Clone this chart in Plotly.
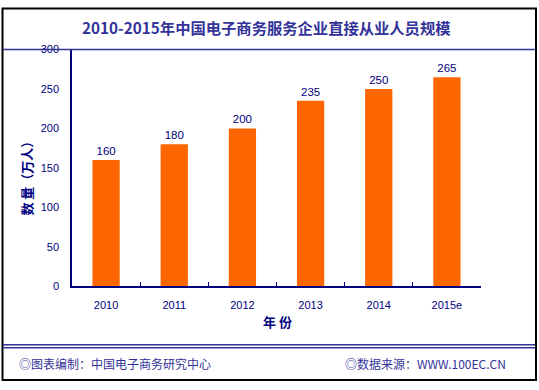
import plotly.graph_objects as go

years = ["2010", "2011", "2012", "2013", "2014", "2015e"]
values = [160, 180, 200, 235, 250, 265]
y_ticks = [0, 50, 100, 150, 200, 250, 300]

title = "2010-2015年中国电子商务服务企业直接从业人员规模"
y_title = "数 量（万人）"
x_title = "年 份"
footer_left = "◎图表编制：中国电子商务研究中心"
footer_right = "◎数据来源：WWW.100EC.CN"

W, H = 539, 390
NAVY = "#000080"
BLUE = "#333399"
CJK = "Noto Sans CJK SC"

def px(x):
    return x / W

def py(y):
    return 1 - y / H

fig = go.Figure()
fig.add_trace(go.Bar(
    x=years, y=values,
    marker=dict(color="#FF6600", line=dict(width=0)),
    text=[str(v) for v in values], textposition="outside",
    textfont=dict(family="Liberation Sans, Arial", size=11.5, color=NAVY),
    cliponaxis=False,
))

shapes = [
    dict(type="rect", xref="paper", yref="paper", x0=px(2.5), x1=px(536), y0=py(2.5), y1=py(386),
         line=dict(color="black", width=2)),
    dict(type="line", xref="paper", yref="paper", x0=px(3), x1=px(535), y0=py(45), y1=py(45),
         line=dict(color=BLUE, width=1.5)),
    dict(type="line", xref="paper", yref="paper", x0=px(3), x1=px(535), y0=py(349.5), y1=py(349.5),
         line=dict(color=BLUE, width=1.5)),
    dict(type="line", xref="paper", yref="paper", x0=px(3), x1=px(535), y0=py(352.5), y1=py(352.5),
         line=dict(color=BLUE, width=1.5)),
]

annotations = [
    dict(text=title, xref="paper", yref="paper", x=px(266), y=py(22), showarrow=False,
         xanchor="center", yanchor="middle",
         font=dict(family=CJK, size=15.3, color=BLUE, weight="bold")),
    dict(text=y_title, xref="paper", yref="paper", x=px(27), y=py(175), showarrow=False,
         textangle=-90, xanchor="center", yanchor="middle",
         font=dict(family=CJK, size=13, color=NAVY, weight="bold")),
    dict(text=x_title, xref="paper", yref="paper", x=px(277), y=py(326), showarrow=False,
         xanchor="center", yanchor="middle",
         font=dict(family=CJK, size=13, color=NAVY, weight="bold")),
    dict(text=footer_left, xref="paper", yref="paper", x=px(17), y=py(369), showarrow=False,
         xanchor="left", yanchor="middle",
         font=dict(family=CJK, size=12, color=BLUE)),
    dict(text=footer_right, xref="paper", yref="paper", x=px(508), y=py(369), showarrow=False,
         xanchor="right", yanchor="middle",
         font=dict(family=CJK, size=12, color=BLUE)),
]

fig.update_layout(
    width=W, height=H,
    margin=dict(l=0, r=0, t=0, b=0),
    paper_bgcolor="white", plot_bgcolor="white",
    showlegend=False,
    bargap=0.6,
    shapes=shapes,
    annotations=annotations,
    xaxis=dict(
        domain=[px(72), px(481)],
        type="category",
        showline=True, linecolor=NAVY, linewidth=1.5,
        ticks="inside", tickson="boundaries", ticklen=4, tickcolor=NAVY, tickwidth=1,
        showgrid=False, zeroline=False,
        tickfont=dict(family="Liberation Sans, Arial", size=11, color=NAVY),
        ticklabelstandoff=8,
    ),
    yaxis=dict(
        domain=[py(289), py(45)],
        range=[0, 300],
        tickvals=y_ticks,
        showline=True, linecolor=NAVY, linewidth=1.5,
        ticks="", showgrid=False, zeroline=False,
        tickfont=dict(family="Liberation Sans, Arial", size=11, color=NAVY),
        ticklabelstandoff=9,
    ),
)

fig.write_html(
    "out.html",
    config={"displayModeBar": False},
    post_script="document.body.style.margin='0';document.body.style.overflow='hidden';",
)
